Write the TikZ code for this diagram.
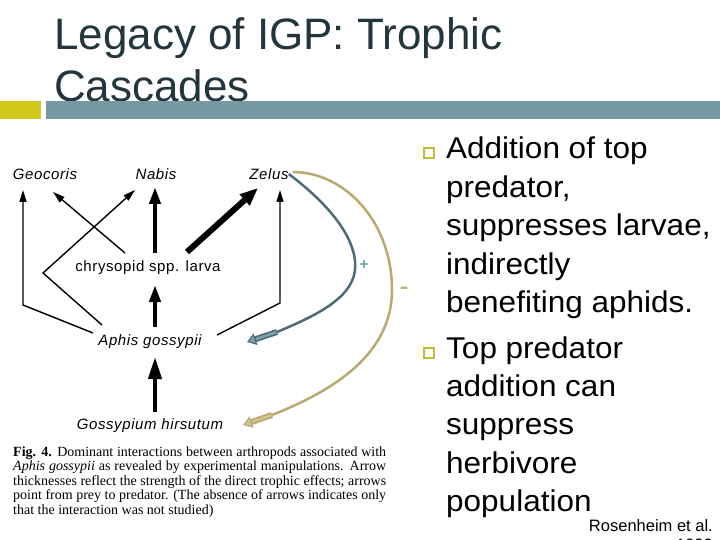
\documentclass[tikz,border=0pt]{standalone}
\usepackage{fontspec}
\setmainfont{Liberation Sans}
\newfontfamily\capserif{Liberation Serif}
\newfontfamily\labfont[LetterSpace=4]{Liberation Sans}
\newfontfamily\bodyfont[FakeStretch=1.05]{Liberation Sans}
\usetikzlibrary{arrows.meta,calc}
\definecolor{titlec}{HTML}{24363D}
\definecolor{barblue}{HTML}{7799A3}
\definecolor{baryel}{HTML}{D2C81C}
\definecolor{slated}{HTML}{4E6C76}
\definecolor{slatel}{HTML}{7E9FA8}
\definecolor{plusc}{HTML}{6F97A2}
\definecolor{tand}{HTML}{B9AA72}
\definecolor{tanl}{HTML}{D0C28C}
\definecolor{bulc}{HTML}{C4BC38}
\tikzset{
  lab/.style={inner sep=0pt, font=\labfont\itshape\fontsize{15}{18}\selectfont},
  labup/.style={inner sep=0pt, font=\labfont\fontsize{15}{18}\selectfont},
  thinarr/.style={line width=1.4pt, -{Triangle[length=12pt,width=7pt]}},
  thickarr/.style={line width=4pt, -{Triangle[length=17pt,width=11pt]}},
  fatarr/.style={line width=6pt, -{Triangle[length=18pt,width=14pt]}},
  bullet/.style={draw=bulc, line width=1.6pt, fill=white},
}
\begin{document}
\begin{tikzpicture}[x=1pt,y=-1pt]
\useasboundingbox (0,0) rectangle (720,540);
\fill[white] (0,0) rectangle (720,540);

% title
\node[anchor=base west, inner sep=0pt, text=titlec] (title) at (54,50)
  {\parbox[t]{600pt}{\fontsize{44}{52}\selectfont Legacy of IGP: Trophic\\Cascades}};
% bar
\fill[baryel] (0,101) rectangle (41,119);
\fill[barblue] (46,101) rectangle (720,119);

% diagram labels
\node[lab] (geo) at (45,174) {Geocoris};
\node[lab] (nabis) at (156,174) {Nabis};
\node[lab] (zelus) at (269,174) {Zelus};
\node[labup] (larva) at (148,268) {chrysopid spp. larva};
\node[lab] (aphis) at (150,342) {Aphis gossypii};
\node[lab] (goss) at (150,426) {Gossypium hirsutum};

% named points
\coordinate (geoL) at (23,190);
\coordinate (geoR) at (53,192);
\coordinate (nabL) at (135,190);
\coordinate (nabC) at (155,187);
\coordinate (zelL) at (258,188);
\coordinate (zelC) at (280,190);
\coordinate (kL) at (23,305);
\coordinate (kM) at (43,273);
\coordinate (kR) at (280,303);

% trophic arrows
\draw[thinarr] (93,333) -- (kL) -- (geoL);
\draw[thinarr] (125,253) -- (geoR);
\draw[thinarr] (102,325) -- (kM) -- (nabL);
\draw[thickarr] (155,253) -- (nabC);
\draw[fatarr] (187,252) -- (zelL);
\draw[thinarr] (217,335) -- (kR) -- (zelC);
\draw[thickarr] (155,327) -- (155,285);
\draw[line width=4pt, -{Triangle[length=22pt,width=13pt]}] (155,412) -- (155,357);

% indirect effect curves
\coordinate (bA) at (277,332);
\coordinate (bT) at (247,342);
\draw[slated, line width=2.5pt] (zelus.east) .. controls (330,205) and (358,240) .. (355,270)
   .. controls (352,300) and (310,318) .. (bA);
\draw[slated, line width=6pt, shorten >=8pt] (bA) -- (bT);
\draw[slatel, line width=2.6pt, shorten >=8pt, shorten <=1pt] (bA) -- (bT);
\draw[slated, line width=1.1pt, -{Triangle[length=9pt,width=12pt,fill=slatel]}] ($(bT)!9.6pt!(bA)$) -- (bT);

\coordinate (tS) at ($(zelus.east)+(4,-2)$);
\coordinate (tA) at (272,415);
\coordinate (tT) at (243,425);
\draw[tand, line width=2.5pt] (tS) .. controls (345,172) and (392,222) .. (392,290)
   .. controls (392,360) and (322,395) .. (tA);
\draw[tand, line width=6pt, shorten >=8pt] (tA) -- (tT);
\draw[tanl, line width=2.6pt, shorten >=8pt, shorten <=1pt] (tA) -- (tT);
\draw[tand, line width=1.1pt, -{Triangle[length=9pt,width=12pt,fill=tanl]}] ($(tT)!9.6pt!(tA)$) -- (tT);

\node[inner sep=0pt, text=plusc, font=\bfseries\fontsize{15}{15}\selectfont] (plus) at (364,265) {+};
\node[inner sep=0pt, text=tand, font=\fontsize{27}{27}\selectfont] (minus) at (404,291) {-};

% caption
\node[anchor=base west, inner sep=0pt] (cap) at (13,456) {\parbox[t]{373pt}{\capserif\fontsize{14}{14.5}\selectfont
\makebox[373pt][s]{\textbf{Fig. 4.} Dominant interactions between arthropods associated with}\\
\makebox[373pt][s]{\textit{Aphis gossypii} as revealed by experimental manipulations. Arrow}\\
\makebox[373pt][s]{thicknesses reflect the strength of the direct trophic effects; arrows}\\
\makebox[373pt][s]{point from prey to predator. (The absence of arrows indicates only}\\
that the interaction was not studied)}};

% bullets
\draw[bullet] (424,148) rectangle (434,158);
\draw[bullet] (424,348) rectangle (434,358);
\node[anchor=base west, inner sep=0pt] (b1) at (446,159) {\parbox[t]{280pt}{\bodyfont\fontsize{30}{38.4}\selectfont
Addition of top\\predator,\\suppresses larvae,\\indirectly\\benefiting aphids.}};
\node[anchor=base west, inner sep=0pt] (b2) at (446,358) {\parbox[t]{280pt}{\bodyfont\fontsize{30}{38.4}\selectfont
Top predator\\addition can\\suppress\\herbivore\\population}};
\node[anchor=base east, inner sep=0pt, font=\fontsize{16.5}{18}\selectfont] (ref) at (713,531) {Rosenheim et al.};
\node[anchor=base east, inner sep=0pt, font=\fontsize{16.5}{18}\selectfont] (yr) at (713,550) {1999};
\end{tikzpicture}
\end{document}
